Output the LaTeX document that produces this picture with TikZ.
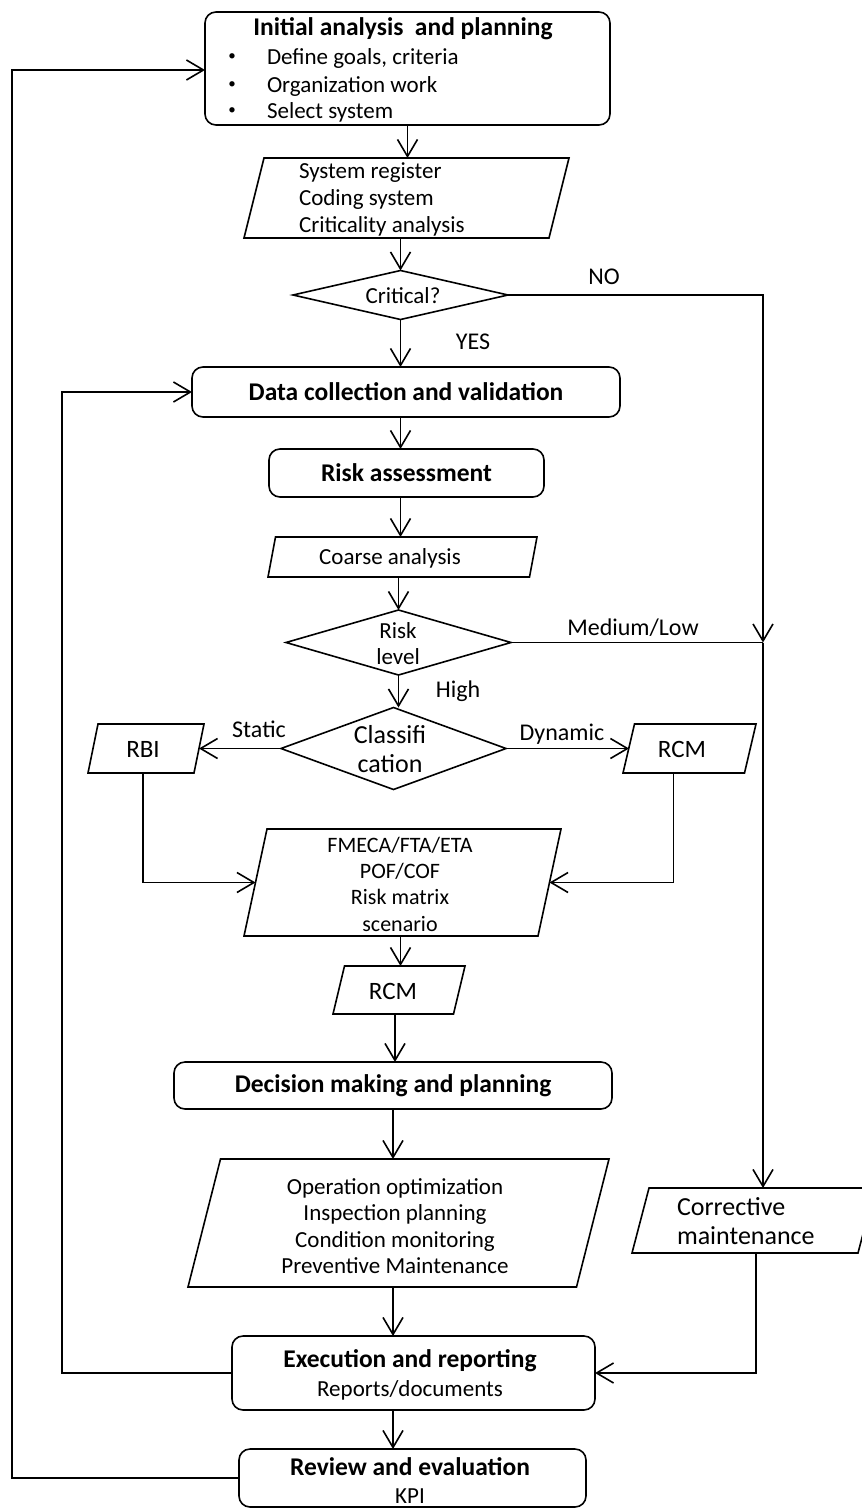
\documentclass[tikz,border=0pt]{standalone}
\usepackage{fontspec}
\setmainfont{Carlito}
\usetikzlibrary{arrows.meta,shapes.geometric,calc}

% parallelogram: name, centre, width, height, slant of the top edge
\newcommand\slantbox[5]{%
  \node[minimum width=#3pt, minimum height=#4pt] (#1) at #2 {};
  \draw ($(#1.south west)$) -- ($(#1.north west)+(#5,0)$) -- (#1.north east)
        -- ($(#1.south east)-(#5,0)$) -- cycle;}

\begin{document}
\begin{tikzpicture}[x=1pt,y=-1pt,
  line width=1.6pt,
  every node/.style={inner sep=0pt, outer sep=0pt},
  body/.style={font=\fontsize{23}{26.5}\selectfont},
  head/.style={font=\bfseries\fontsize{25.5}{29}\selectfont},
  tag/.style={font=\fontsize{24}{28}\selectfont},
  rbox/.style={draw, rounded corners=11pt},
  choice/.style={draw, diamond},
  flow/.style={-{Straight Barb[length=17pt,width=20pt]}}]

\useasboundingbox (0,0) rectangle (862,1510);
\clip (0,0) rectangle (862,1510);

% ---- boxes -------------------------------------------------------------
\node[rbox, minimum width=405pt, minimum height=113pt] (init) at (407.5,68.5) {};
\node[head] (init-title) at (403,29) {Initial analysis~ and planning};
\node[font=\fontsize{15}{15}\selectfont] (b1) at (232,57) {•};
\node[font=\fontsize{15}{15}\selectfont] (b2) at (232,85) {•};
\node[font=\fontsize{15}{15}\selectfont] (b3) at (232,111) {•};
\node[body, anchor=west] (i1) at (267,58) {Define goals, criteria};
\node[body, anchor=west] (i2) at (267,86) {Organization work};
\node[body, anchor=west] (i3) at (267,112) {Select system};

\slantbox{sys}{(406.5,198)}{325}{80}{20}
\node[body, anchor=west, align=left, font=\fontsize{23}{27}\selectfont] (sys-text) at (299,199)
  {System register\\Coding system\\Criticality analysis};

\node[choice, minimum width=215pt, minimum height=49pt] (crit) at (400.5,295) {};
\node[body] (crit-text) at (403,296) {Critical?};

\node[rbox, minimum width=428pt, minimum height=50pt, head] (data) at (406,392) {Data collection and validation};

\node[rbox, minimum width=275pt, minimum height=48pt, head] (risk) at (406.5,473) {Risk assessment};

\slantbox{coarse}{(402.5,557)}{269}{40}{7.5}
\node[body] (coarse-text) at (390,558) {Coarse analysis};

\node[choice, minimum width=225pt, minimum height=65pt] (rlev) at (398.5,642.5) {};
\node[body, align=center, font=\fontsize{23}{26}\selectfont] (rlev-text) at (398,644) {Risk\\level};

\node[choice, minimum width=225pt, minimum height=82pt] (cls) at (393.5,748.5) {};
\node[align=center, font=\fontsize{26}{29}\selectfont] (cls-text) at (390,749) {Classifi\\cation};

\slantbox{rbi}{(146,748.5)}{116}{49}{10}
\node[font=\fontsize{25}{28}\selectfont] (rbi-text) at (143,749) {RBI};

\slantbox{rcm}{(689.5,748.5)}{133}{49}{11.5}
\node[font=\fontsize{25}{28}\selectfont] (rcm-text) at (682,749) {RCM};

\slantbox{fmeca}{(402.5,882.5)}{317}{107}{23}
\node[align=center, font=\fontsize{22}{26.3}\selectfont] (fmeca-text) at (400,884)
  {FMECA/FTA/ETA\\POF/COF\\Risk matrix\\scenario};

\slantbox{rcm2}{(399,990)}{132}{48}{11.5}
\node[font=\fontsize{25}{28}\selectfont] (rcm2-text) at (393,991) {RCM};

\node[rbox, minimum width=438pt, minimum height=47pt, head] (dec) at (393,1085.5) {Decision making and planning};

\slantbox{op}{(398.5,1223)}{421}{128}{32.5}
\node[body, align=center] (op-text) at (395,1226)
  {Operation optimization\\Inspection planning\\Condition monitoring\\Preventive Maintenance};

\slantbox{corr}{(753.5,1220.5)}{243}{65}{17}
\node[anchor=west, align=left, font=\fontsize{26}{29}\selectfont] (corr-text) at (677,1221)
  {Corrective\\maintenance};

\node[rbox, minimum width=363pt, minimum height=74pt] (exec) at (413.5,1373) {};
\node[head] (exec-title) at (410,1361) {Execution and reporting};
\node[body] (exec-sub) at (410,1390) {Reports/documents};

\node[rbox, minimum width=347pt, minimum height=58pt] (rev) at (412.5,1478) {};
\node[head] (rev-title) at (410,1467) {Review and evaluation};
\node[body] (rev-sub) at (410,1496) {KPI};

% ---- branch labels -----------------------------------------------------
\node[tag] (no) at (604,277) {NO};
\node[tag] (yes) at (473,342) {YES};
\node[tag] (medlow) at (633,628) {Medium/Low};
\node[tag] (high) at (458,691) {High};
\node[tag] (static) at (259,729) {Static};
\node[tag] (dynamic) at (562,734) {Dynamic};

% ---- helper points on the side rails -----------------------------------
\coordinate (merge) at (763,642.5);
\coordinate (innerrail) at (62,392);
\coordinate (outerrail) at (12,70);

% ---- main flow ---------------------------------------------------------
\draw[flow] (init.south) -- (init.south |- sys.north);
\draw[flow] (sys.south -| crit.north) -- (crit.north);
\draw[flow] (crit.south) -- (crit.south |- data.north);
\draw[flow] (data.south -| crit.south) -- (crit.south |- risk.north);
\draw[flow] (risk.south -| crit.south) -- (crit.south |- coarse.north);
\draw[flow] (coarse.south -| rlev.north) -- (rlev.north);
\draw[flow] (rlev.south) -- (rlev.south |- cls.north);
\draw[flow] (cls.west) -- ($(rbi.east)-(5,0)$);
\draw[flow] (cls.east) -- ($(rcm.west)+(6,0)$);
\draw[flow] ($(rbi.south)+(-3,0)$) |- ($(fmeca.west)+(11.5,0)$);
\draw[flow] ($(rcm.south)+(-16,0)$) |- ($(fmeca.east)-(11.5,0)$);
\draw[flow] (fmeca.south -| crit.south) -- (crit.south |- rcm2.north);
\draw[flow] ($(rcm2.south)+(-4,0)$) -- ($(rcm2.south |- dec.north)+(-4,0)$);
\draw[flow] (dec.south) -- (dec.south |- op.north);
\draw[flow] (op.south -| dec.south) -- (dec.south |- exec.north);
\draw[flow] (exec.south -| dec.south) -- (dec.south |- rev.north);

% ---- bypass for non-critical / low-risk items --------------------------
\draw[flow] (crit.east) -| (merge);
\draw (rlev.east) -- (merge);
\draw[flow] (merge) -- (merge |- corr.north);
\draw[flow] ($(corr.south)+(2.5,0)$) |- (exec.east);

% ---- feedback loops ----------------------------------------------------
\draw[flow] (exec.west) -| (innerrail) -- (data.west);
\draw[flow] (rev.west) -| (outerrail) -- (outerrail -| init.west);
\end{tikzpicture}
\end{document}
